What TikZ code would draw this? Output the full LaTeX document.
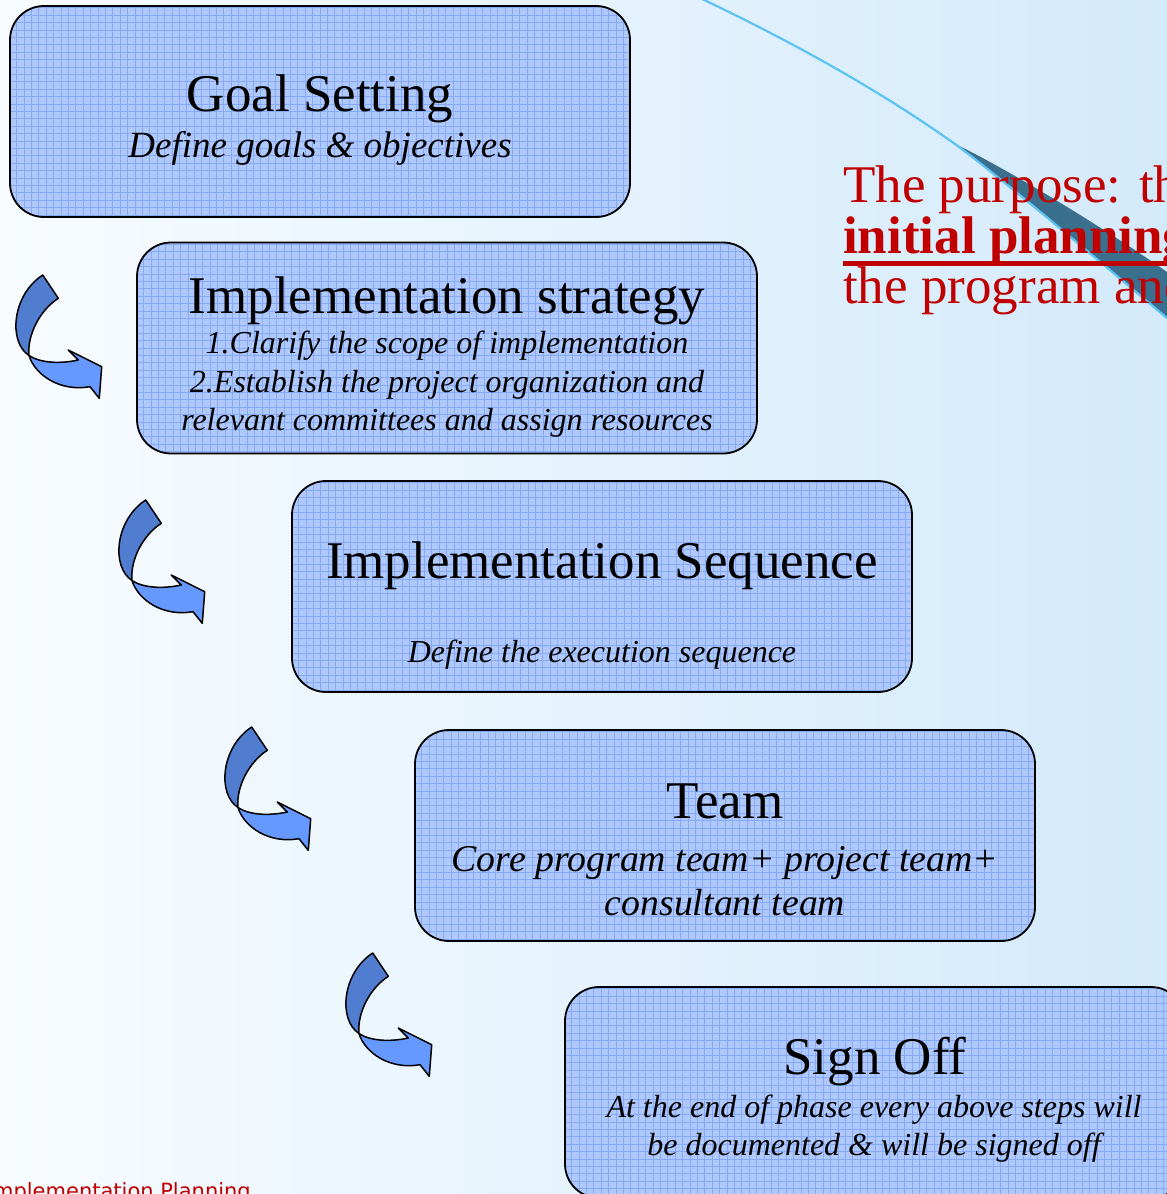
\documentclass[tikz,border=0pt]{standalone}
\usepackage{fontspec}
\setmainfont{Liberation Serif}
\newfontfamily\dejavu{DejaVu Sans}
\definecolor{bgL}{HTML}{F8FCFF}
\definecolor{bgR}{HTML}{D3EAFB}
\definecolor{boxfill}{HTML}{AFC9FC}
\definecolor{gridc}{HTML}{86AAF7}
\definecolor{arrdark}{HTML}{507DCF}
\definecolor{arrlight}{HTML}{6699FF}
\definecolor{redtxt}{HTML}{C00000}
\definecolor{swline}{HTML}{5CC4F5}
\definecolor{swdark}{HTML}{3A6F8E}
\tikzset{
  stage/.style={draw=black, line width=1.8pt, rounded corners=34pt, fill=boxfill,
    minimum width=620pt, minimum height=211pt, inner sep=0pt,
    path picture={\draw[gridc, line width=0.9pt]
      ([shift={(-10pt,-10pt)}]path picture bounding box.south west) grid[step=7.4pt]
      ([shift={(10pt,10pt)}]path picture bounding box.north east);}},
  ttl/.style={font=\fontsize{53}{53}\selectfont, inner sep=0pt, anchor=base},
  sub/.style={font=\fontsize{32}{38}\selectfont\itshape, inner sep=0pt, anchor=base},
  subA/.style={font=\fontsize{37}{40}\selectfont\itshape, inner sep=0pt, anchor=base},
  subB/.style={font=\fontsize{37.8}{40}\selectfont\itshape, inner sep=0pt, anchor=base},
  redline/.style={font=\fontsize{53}{53}\selectfont, text=redtxt, inner sep=0pt, anchor=base west},
  curlout/.style={draw=black, line width=1.5pt, line join=round},
}
\newcommand\bluecurl[2]{%
  \begin{scope}[shift={(#1,#2)}]
    \filldraw[curlout, fill=arrdark] (42.7,15) .. controls (12,35) and (8,82) .. (29,95.5)
      .. controls (27,75) and (40,50) .. (58.3,38.3) -- cycle;
    \filldraw[curlout, fill=arrlight] (29,95.5) .. controls (35,115) and (60,132) .. (90,126.7)
      -- (99.3,138.3) -- (101.7,106.7) -- (68.3,90) -- (78.3,100)
      .. controls (60,104) and (40,103) .. (29,95.5) -- cycle;
  \end{scope}}
\begin{document}
\begin{tikzpicture}[x=1pt,y=-1pt]
  \useasboundingbox (0,0) rectangle (1167,1194);
  \clip (0,0) rectangle (1167,1194);
  \shade[left color=bgL, right color=bgR] (0,0) rectangle (1167,1194);
  % swoosh
  \fill[swdark] (955,144) .. controls (1000,165) and (1100,225) .. (1167,272)
    -- (1167,318) .. controls (1080,245) and (1000,177) .. (955,144) -- cycle;
  \draw[swline, line width=2.2pt] (700,-2) .. controls (820,55) and (900,105) .. (955,144)
    .. controls (1000,177) and (1080,245) .. (1167,318);
  % red text
  \node[redline] (p1) at (843,202) {The purpose: the};
  \node[redline, font=\fontsize{53}{53}\selectfont\bfseries] (p2) at (843,253) {initial planning};
  \node[redline] (p3) at (843,303) {the program and};
  \draw[redtxt, line width=5pt] ([yshift=-10pt]p2.base west) -- ++(400,0);
  % boxes
  \node[stage] (b1) at (320,111.5) {};
  \node[stage] (b2) at (447,348) {};
  \node[stage] (b3) at (602,586.5) {};
  \node[stage] (b4) at (725,835.5) {};
  \node[stage] (b5) at (875,1092.5) {};
  % texts
  \node[ttl] (t1) at (320,111) {Goal Setting};
  \node[subA] (s1) at (320,157) {Define goals \& objectives};
  \node[ttl] (t2) at (447,313) {Implementation strategy};
  \node[sub] (s2a) at (447,353) {1.Clarify the scope of implementation};
  \node[sub] (s2b) at (447,392) {2.Establish the project organization and};
  \node[sub] (s2c) at (447,430) {relevant committees and assign resources};
  \node[ttl] (t3) at (602,578) {Implementation Sequence};
  \node[sub] (s3) at (602,662) {Define the execution sequence};
  \node[ttl] (t4) at (725,818) {Team};
  \node[subB] (s4a) at (725,871) {Core program team+ project team+};
  \node[subB] (s4b) at (725,915) {consultant team};
  \node[ttl] (t5) at (875,1074) {Sign Off};
  \node[sub] (s5a) at (874,1117) {At the end of phase every above steps will};
  \node[sub] (s5b) at (874,1155) {be documented \& will be signed off};
  % curved arrows
  \bluecurl{0}{260}
  \bluecurl{103}{485}
  \bluecurl{209}{712}
  \bluecurl{330}{938}
  % footer
  \node[font=\dejavu\fontsize{21}{21}\selectfont, text=redtxt, inner sep=0pt, anchor=base east] (foot) at (251,1198) {Implementation Planning};
\end{tikzpicture}
\end{document}
